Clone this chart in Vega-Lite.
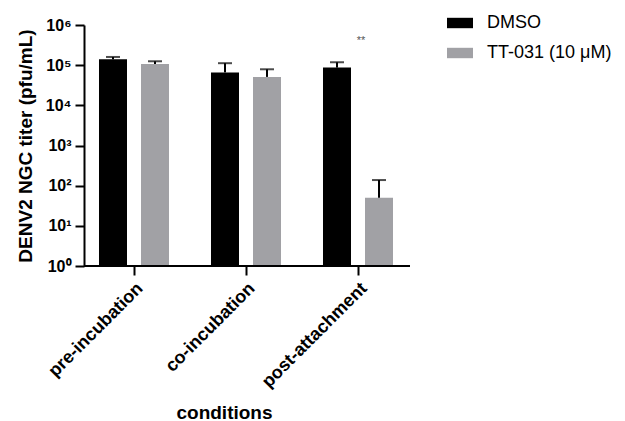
{
  "$schema": "https://vega.github.io/schema/vega-lite/v6.json",
  "autosize": {"type": "none"},
  "width": 326,
  "height": 241,
  "padding": {"left": 84, "top": 25, "right": 215, "bottom": 155},
  "background": "white",
  "config": {
    "view": {"stroke": null},
    "font": "Liberation Sans",
    "axis": {"grid": false, "domainColor": "black", "domainWidth": 2, "tickColor": "black", "tickWidth": 2, "tickSize": 9, "labelColor": "black", "titleColor": "black"}
  },
  "data": {
    "values": [
      {"condition": "pre-incubation", "treatment": "DMSO", "titer": 140000, "upper": 160000},
      {"condition": "pre-incubation", "treatment": "TT-031 (10 μM)", "titer": 107000, "upper": 125000},
      {"condition": "co-incubation", "treatment": "DMSO", "titer": 66000, "upper": 112000},
      {"condition": "co-incubation", "treatment": "TT-031 (10 μM)", "titer": 51000, "upper": 79000},
      {"condition": "post-attachment", "treatment": "DMSO", "titer": 87000, "upper": 118000},
      {"condition": "post-attachment", "treatment": "TT-031 (10 μM)", "titer": 50, "upper": 138}
    ]
  },
  "encoding": {
    "x": {
      "field": "condition", "type": "nominal",
      "sort": ["pre-incubation", "co-incubation", "post-attachment"],
      "scale": {"range": [-6, 330], "paddingInner": 0, "paddingOuter": 0},
      "axis": {"domain": false, "labelAngle": -45, "labelFontSize": 18, "labelFontWeight": "bold", "labelPadding": 4, "title": "conditions", "titleFontSize": 19, "titleFontWeight": "bold", "titleBaseline": "alphabetic", "titleY": 152, "titleX": 140}
    }
  },
  "layer": [
    {
      "mark": {"type": "bar"},
      "encoding": {
        "xOffset": {"field": "treatment", "type": "nominal", "sort": ["DMSO", "TT-031 (10 μM)"], "scale": {"paddingInner": 0.3333, "paddingOuter": 0.5}},
        "y": {
          "field": "titer", "type": "quantitative",
          "scale": {"type": "log", "domain": [1, 1000000], "nice": false},
          "axis": {"values": [1, 10, 100, 1000, 10000, 100000, 1000000], "labelExpr": "'10' + ['⁰','¹','²','³','⁴','⁵','⁶'][round(log(datum.value)/LN10)]", "labelFontSize": 16, "labelFontWeight": "bold", "labelPadding": 4, "title": "DENV2 NGC titer (pfu/mL)", "titleFontSize": 19, "titleFontWeight": "bold", "titlePadding": 10}
        },
        "y2": {"datum": 1},
        "color": {
          "field": "treatment", "type": "nominal", "sort": ["DMSO", "TT-031 (10 μM)"],
          "scale": {"range": ["#000000", "#a1a1a5"]},
          "legend": {"title": null, "orient": "none", "legendX": 363, "legendY": -15, "symbolType": "M-1,-0.4H1V0.4H-1Z", "symbolSize": 676, "symbolStrokeWidth": 0, "symbolOpacity": 1, "labelFontSize": 18, "labelColor": "black", "labelOffset": 14, "rowPadding": 8}
        }
      }
    },
    {
      "mark": {"type": "rule", "color": "black", "strokeWidth": 2},
      "encoding": {
        "xOffset": {"field": "treatment", "type": "nominal", "sort": ["DMSO", "TT-031 (10 μM)"], "scale": {"paddingInner": 0.3333, "paddingOuter": 0.5}},
        "y": {"field": "titer", "type": "quantitative"},
        "y2": {"field": "upper"}
      }
    },
    {
      "mark": {"type": "tick", "color": "black", "thickness": 2, "size": 14, "orient": "horizontal"},
      "encoding": {
        "xOffset": {"field": "treatment", "type": "nominal", "sort": ["DMSO", "TT-031 (10 μM)"], "scale": {"paddingInner": 0.3333, "paddingOuter": 0.5}},
        "y": {"field": "upper", "type": "quantitative"}
      }
    },
    {
      "data": {"values": [{"condition": "post-attachment", "label": "**", "pos": 400000}]},
      "mark": {"type": "text", "fontSize": 11, "fill": "#555555", "baseline": "middle", "dx": 3},
      "encoding": {
        "y": {"field": "pos", "type": "quantitative"},
        "text": {"field": "label"}
      }
    },
    {
      "data": {"values": [{"base": 1}]},
      "mark": {"type": "rule", "color": "black", "strokeWidth": 2},
      "encoding": {
        "x": null,
        "y": {"field": "base", "type": "quantitative"}
      }
    }
  ]
}
